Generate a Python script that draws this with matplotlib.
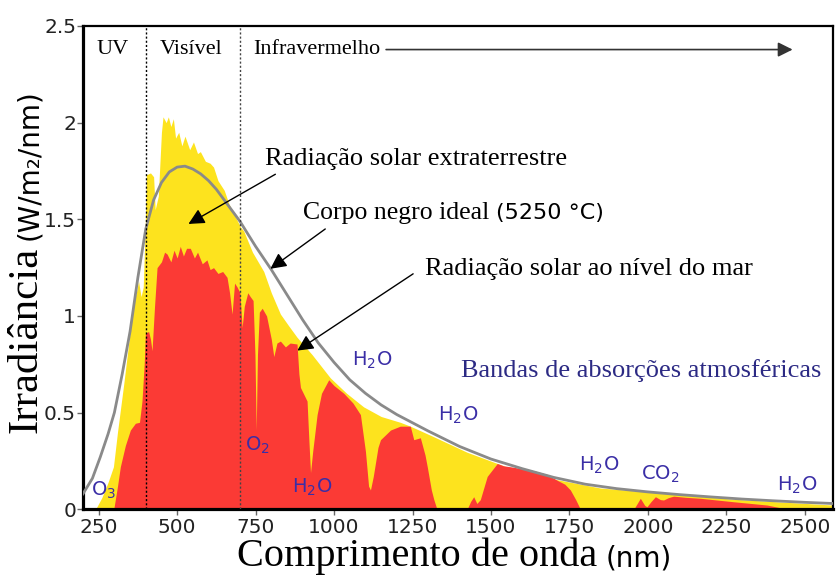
import numpy as np
import matplotlib
matplotlib.use("Agg")
import matplotlib.pyplot as plt

# espectro extraterrestre (amarelo)
ext_nm = [240, 260, 280, 297, 310, 330, 345, 362, 370, 377, 385, 392, 398, 402, 415, 425, 430,
          440, 450, 455, 465, 472, 480, 488, 495, 505, 515, 525, 540, 552, 565, 574, 590, 605,
          616, 630, 650, 665, 680, 702, 712, 740, 776, 800, 829, 855, 882, 930, 988, 1040,
          1094, 1150, 1211, 1243, 1318, 1424, 1562, 1689, 1849, 2061, 2273, 2590]
ext_val = [0, 0.06, 0.14, 0.22, 0.40, 0.65, 0.85, 1.08, 1.12, 1.18, 1.10, 1.15, 1.45, 1.73, 1.74,
           1.72, 1.55, 1.62, 1.95, 2.03, 2.00, 2.03, 1.98, 2.02, 1.92, 1.95, 1.88, 1.93, 1.86,
           1.90, 1.84, 1.85, 1.80, 1.79, 1.77, 1.70, 1.65, 1.58, 1.53, 1.46, 1.44, 1.33, 1.23,
           1.12, 1.01, 0.95, 0.89, 0.80, 0.68, 0.60, 0.53, 0.48, 0.45, 0.43, 0.375, 0.295,
           0.212, 0.16, 0.11, 0.082, 0.052, 0.022]

# espectro ao nivel do mar (vermelho)
sea_nm = [298, 310, 319, 335, 351, 367, 380, 388, 395, 399, 409, 415, 420, 428, 436, 450, 460,
          468, 480, 490, 500, 510, 520, 530, 542, 555, 565, 580, 595, 605, 616, 630, 645, 659,
          667, 675, 683, 691, 700, 707, 714, 725, 733, 742, 748, 752, 756, 762, 771, 785, 800,
          808, 818, 829, 845, 860, 882, 888, 893, 905, 914, 920, 925, 932, 946, 960, 983, 1000,
          1031, 1060, 1084, 1100, 1110, 1116, 1125, 1140, 1148, 1180, 1211, 1243, 1254, 1275,
          1290, 1297, 1310, 1318, 1328, 1424, 1435, 1445, 1455, 1466, 1488, 1520, 1540, 1562,
          1600, 1636, 1680, 1711, 1735, 1753, 1770, 1785, 1955, 1976, 1990, 1997, 2010, 2024,
          2040, 2050, 2065, 2082, 2120, 2167, 2220, 2273, 2330, 2380, 2422, 2440]
sea_val = [0, 0.12, 0.22, 0.33, 0.41, 0.445, 0.45, 0.56, 0.75, 0.91, 0.92, 0.88, 0.82, 1.05,
           1.25, 1.28, 1.33, 1.32, 1.28, 1.34, 1.30, 1.36, 1.31, 1.35, 1.35, 1.30, 1.33, 1.27,
           1.29, 1.24, 1.25, 1.22, 1.23, 1.20, 1.12, 1.01, 1.17, 1.15, 1.12, 0.94, 1.05, 1.12,
           1.10, 1.08, 0.80, 0.41, 0.80, 1.02, 1.04, 1.00, 0.88, 0.79, 0.86, 0.87, 0.84, 0.86,
           0.855, 0.70, 0.63, 0.59, 0.56, 0.35, 0.19, 0.30, 0.49, 0.60, 0.67, 0.64, 0.60, 0.55,
           0.49, 0.30, 0.12, 0.10, 0.17, 0.32, 0.36, 0.41, 0.43, 0.43, 0.36, 0.37, 0.28, 0.22,
           0.10, 0.05, 0, 0, 0.04, 0.065, 0.03, 0.05, 0.17, 0.237, 0.225, 0.22, 0.21, 0.20,
           0.18, 0.15, 0.13, 0.10, 0.05, 0, 0, 0.057, 0.02, 0.013, 0.04, 0.065, 0.05, 0.048,
           0.06, 0.068, 0.062, 0.057, 0.048, 0.039, 0.03, 0.022, 0.008, 0]

# corpo negro 5250 C (cinza)
bb_nm = [200, 230, 255, 280, 300, 325, 350, 375, 400, 425, 450, 475, 500, 525, 550, 575, 600,
         625, 650, 675, 700, 750, 800, 850, 900, 950, 1000, 1050, 1100, 1150, 1200, 1300, 1400,
         1500, 1600, 1700, 1800, 1900, 2000, 2100, 2200, 2300, 2400, 2500, 2590]
bb_val = [0.08, 0.16, 0.27, 0.39, 0.50, 0.70, 0.92, 1.20, 1.45, 1.60, 1.69, 1.745, 1.77, 1.775,
          1.76, 1.735, 1.70, 1.655, 1.60, 1.545, 1.49, 1.36, 1.24, 1.11, 0.98, 0.86, 0.76, 0.67,
          0.60, 0.54, 0.49, 0.405, 0.325, 0.26, 0.21, 0.165, 0.13, 0.107, 0.09, 0.076, 0.064,
          0.053, 0.044, 0.036, 0.03]

xticks = [250, 500, 750, 1000, 1250, 1500, 1750, 2000, 2250, 2500]
yticks = [0, 0.5, 1, 1.5, 2, 2.5]
ytick_labels = ["0", "0.5", "1", "1.5", "2", "2.5"]

# etiquetas das bandas de absorcao: (texto, nm, valor)
bandas = [(r"O$_3$", 265, 0.10), (r"O$_2$", 755, 0.33), (r"H$_2$O", 931, 0.115),
          (r"H$_2$O", 1122, 0.77), (r"H$_2$O", 1394, 0.486), (r"H$_2$O", 1846, 0.228),
          (r"CO$_2$", 2040, 0.182), (r"H$_2$O", 2476, 0.125)]

SERIF = ["Liberation Serif", "DejaVu Serif"]
SANS = ["DejaVu Sans"]
AMARELO = "#fde31e"
VERMELHO = "#fb3a35"
AZUL = "#3a2ea6"

plt.rcParams["mathtext.fontset"] = "dejavusans"
plt.rcParams["mathtext.default"] = "regular"

fig = plt.figure(figsize=(8.4, 5.76), dpi=100)
ax = fig.add_axes([0.0988, 0.1158, 0.8929, 0.8391])

ax.fill_between(ext_nm, ext_val, color=AMARELO, lw=0, zorder=1)
ax.fill_between(sea_nm, sea_val, color=VERMELHO, lw=0, zorder=2)
ax.plot(bb_nm, bb_val, color="#8a8a8a", lw=2, zorder=3)
ax.axvline(400, color="black", lw=1, ls=(0, (1.5, 1.5)), zorder=4)
ax.axvline(700, color="#444444", lw=1, ls=(0, (1.5, 1.5)), zorder=4)

ax.set_xlim(200, 2590)
ax.set_ylim(0, 2.5)
ax.set_xticks(xticks)
ax.set_xticklabels([str(t) for t in xticks])
ax.set_yticks(yticks)
ax.set_yticklabels(ytick_labels)
ax.tick_params(direction="out", length=4, width=1, color="#666666", labelsize=14.5,
               labelcolor="#222222")
ax.tick_params(axis="y", pad=1)
ax.tick_params(axis="x", pad=2)
for lado in ["left", "bottom"]:
    ax.spines[lado].set_linewidth(2.3)
for lado in ["top", "right"]:
    ax.spines[lado].set_linewidth(1.6)

# regioes
ax.text(293, 2.378, "UV", family=SERIF, fontsize=16, ha="center", va="center")
ax.text(545, 2.378, "Visível", family=SERIF, fontsize=16, ha="center", va="center")
ax.text(742, 2.378, "Infravermelho", family=SERIF, fontsize=16, ha="left", va="center")
ax.annotate("", xy=(2470, 2.378), xytext=(1157, 2.378),
            arrowprops=dict(arrowstyle="-|>", color="#333333", lw=1.2, mutation_scale=22))

seta = dict(arrowstyle="-|>", color="black", lw=1, mutation_scale=24, shrinkA=0, shrinkB=0)
ax.text(780, 1.811, "Radiação solar extraterrestre", family=SERIF, fontsize=19,
        ha="left", va="center")
ax.annotate("", xy=(536, 1.476), xytext=(813, 1.733), arrowprops=seta)
t_corpo = ax.text(902, 1.50, "Corpo negro ideal ", family=SERIF, fontsize=18.5,
                  ha="left", va="baseline")
ax.annotate("", xy=(797, 1.244), xytext=(972, 1.45), arrowprops=seta)
ax.text(1290, 1.244, "Radiação solar ao nível do mar", family=SERIF, fontsize=19,
        ha="left", va="center")
ax.annotate("", xy=(883, 0.821), xytext=(1252, 1.218), arrowprops=seta)
ax.text(1405, 0.718, "Bandas de absorções atmosféricas", family=SERIF, fontsize=19,
        color="#2c2a84", ha="left", va="center")

for txt, nm, val in bandas:
    ax.text(nm, val, txt, family=SANS, fontsize=14, color=AZUL, ha="center", va="center")

# rotulos dos eixos (serifa + sem serifa)
xl1 = fig.text(237 / 840, 1 - 566 / 576, "Comprimento de onda", family=SERIF, fontsize=29,
               ha="left", va="baseline")
yl1 = fig.text(37 / 840, 1 - 433 / 576, "Irradiância", family=SERIF, fontsize=31,
               rotation=90, rotation_mode="anchor", ha="left", va="baseline")

fig.canvas.draw()
r = fig.canvas.get_renderer()
bb = t_corpo.get_window_extent(r)
x_fim = ax.transData.inverted().transform((bb.x1, 0))[0]
ax.text(x_fim, 1.50, "(5250 °C)", family=SANS, fontsize=16, ha="left", va="baseline")

bb = xl1.get_window_extent(r)
fig.text((bb.x1 + 8) / 840, 1 - 566 / 576, "(nm)", family=SANS, fontsize=20, ha="left",
         va="baseline")
bb = yl1.get_window_extent(r)
fig.text(37 / 840, (bb.y1 + 7) / 576, "(W/m₂/nm)", family=SANS, fontsize=20, rotation=90,
         rotation_mode="anchor", ha="left", va="baseline")

fig.savefig("out.png", dpi=100)
